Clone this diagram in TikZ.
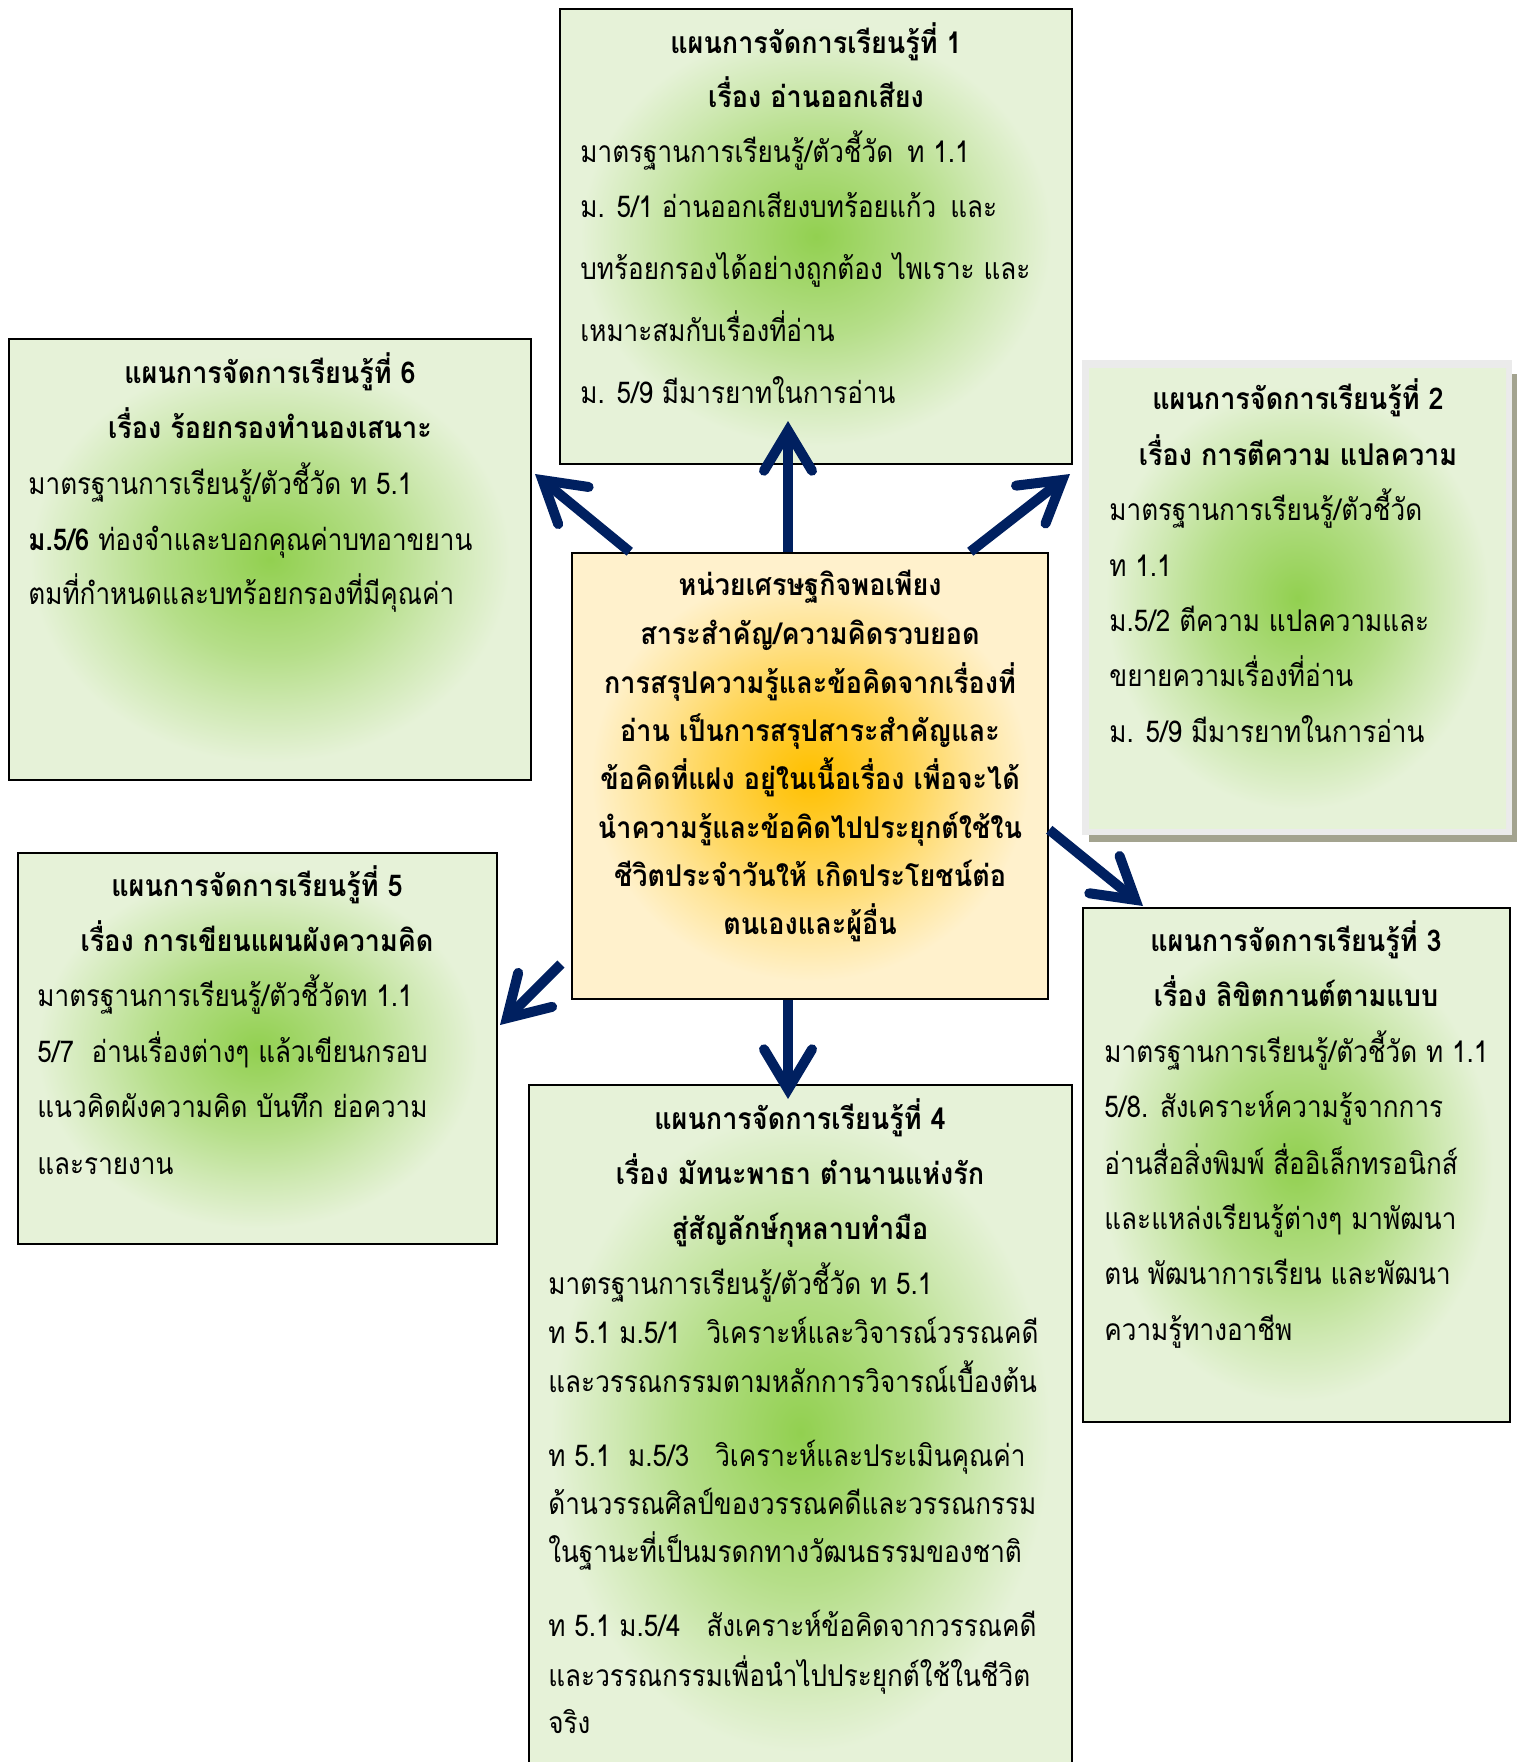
\documentclass[tikz,border=0pt]{standalone}
\usepackage{fontspec}
\setmainfont[Script=Thai]{Loma}
\newfontfamily\thbody[Script=Thai,FakeStretch=0.87]{Loma}
\newfontfamily\thbold[Script=Thai,FakeStretch=0.90]{Loma}
\usetikzlibrary{calc,arrows.meta}
\definecolor{gedge}{HTML}{E6F2D8}
\definecolor{gmid}{HTML}{92D050}
\definecolor{oedge}{HTML}{FFF1CC}
\definecolor{omid}{HTML}{FFC000}
\definecolor{navy}{HTML}{002060}
\definecolor{frameg}{HTML}{EBEBEB}
\definecolor{shadowg}{HTML}{A3A38F}
\pgfdeclareradialshading{greenglow}{\pgfpointorigin}{%
  color(0bp)=(gmid); color(4bp)=(gmid!85!gedge); color(11bp)=(gmid!58!gedge);
  color(17bp)=(gmid!28!gedge); color(23bp)=(gedge); color(50bp)=(gedge)}
\pgfdeclareradialshading{orangeglow}{\pgfpointorigin}{%
  color(0bp)=(omid); color(4bp)=(omid!85!oedge); color(11bp)=(omid!55!oedge);
  color(17bp)=(omid!25!oedge); color(23bp)=(oedge); color(50bp)=(oedge)}
\newcommand\bodyline[4]{\node[bodytext] (#1) at (#2,#3) {#4};}
\newcommand\titleline[4]{\node[titletext] (#1) at (#2,#3) {#4};}
\tikzset{
  planbox/.style={draw=black, line width=1.25pt, inner sep=0pt, rectangle},
  greenfill/.style={shading=greenglow},
  orangefill/.style={shading=orangeglow},
  bodytext/.style={font=\thbody\fontsize{15}{18}\selectfont, anchor=mid west, inner sep=0pt},
  titletext/.style={font=\thbold\bfseries\fontsize{15}{18}\selectfont, anchor=mid, inner sep=0pt},
  ctrtext/.style={font=\thbold\bfseries\fontsize{15}{18}\selectfont, anchor=mid, inner sep=0pt},
  arr/.style={draw=navy, line width=5pt, line cap=butt,
    -{Straight Barb[length=20pt, width=24pt, line cap=round, line join=miter]}},
}
\begin{document}
\begin{tikzpicture}[x=0.5pt,y=-0.5pt]
\useasboundingbox (0,0) rectangle (1518,1762);
\clip (0,0) rectangle (1518,1762);
\fill[white] (0,0) rectangle (1518,1762);

% boxes
\node[planbox, greenfill, minimum width=256pt, minimum height=227.5pt] (b1) at (816,236.5) {};
\node[planbox, greenfill, minimum width=261pt, minimum height=220.5pt] (b6) at (270,559.5) {};
\fill[shadowg] (1089,374) rectangle (1517,842);
\fill[frameg] (1082,360) rectangle (1512,835);
\node[inner sep=0pt, rectangle, greenfill, minimum width=208.5pt, minimum height=230pt] (b2) at (1297.5,598) {};
\node[planbox, orangefill, minimum width=238pt, minimum height=223pt] (ctr) at (810,776) {};
\node[planbox, greenfill, minimum width=239.5pt, minimum height=195.5pt] (b5) at (257.5,1048.5) {};
\node[planbox, greenfill, minimum width=213.5pt, minimum height=257pt] (b3) at (1296.5,1165) {};
\node[planbox, greenfill, minimum width=271.5pt, minimum height=347.5pt] (b4) at (800.5,1432.5) {};

% box 1
\titleline{b1t1}{816}{48}{แผนการจัดการเรียนรู้ที่ 1}
\titleline{b1t2}{816}{102}{เรื่อง อ่านออกเสียง}
\bodyline{b1l1}{580}{157}{มาตรฐานการเรียนรู้/ตัวชี้วัด\hspace{7pt}ท 1.1}
\bodyline{b1l2}{580}{212}{ม. 5/1 อ่านออกเสียงบทร้อยแก้ว\hspace{7pt}และ}
\bodyline{b1l3}{580}{274}{บทร้อยกรองได้อย่างถูกต้อง\hspace{5pt}ไพเราะ และ}
\bodyline{b1l4}{580}{336}{เหมาะสมกับเรื่องที่อ่าน}
\bodyline{b1l5}{580}{398}{ม. 5/9 มีมารยาทในการอ่าน}

% box 6
\titleline{b6t1}{270}{378}{แผนการจัดการเรียนรู้ที่ 6}
\titleline{b6t2}{270}{433}{เรื่อง ร้อยกรองทำนองเสนาะ}
\bodyline{b6l1}{28}{489}{มาตรฐานการเรียนรู้/ตัวชี้วัด ท 5.1}
\bodyline{b6l2}{28}{545}{\textbf{ม.5/6} ท่องจำและบอกคุณค่าบทอาขยาน}
\bodyline{b6l3}{28}{599}{ตมที่กำหนดและบทร้อยกรองที่มีคุณค่า}

% box 2
\titleline{b2t1}{1298}{404}{แผนการจัดการเรียนรู้ที่ 2}
\titleline{b2t2}{1298}{460}{เรื่อง การตีความ แปลความ}
\bodyline{b2l1}{1109}{515}{มาตรฐานการเรียนรู้/ตัวชี้วัด}
\bodyline{b2l2}{1109}{571}{ท 1.1}
\bodyline{b2l3}{1109}{626}{ม.5/2 ตีความ แปลความและ}
\bodyline{b2l4}{1109}{681}{ขยายความเรื่องที่อ่าน}
\bodyline{b2l5}{1109}{737}{ม. 5/9 มีมารยาทในการอ่าน}

% centre
\node[ctrtext] (c1) at (810,590) {หน่วยเศรษฐกิจพอเพียง};
\node[ctrtext] (c2) at (810,639) {สาระสำคัญ/ความคิดรวบยอด};
\node[ctrtext] (c3) at (810,688) {การสรุปความรู้และข้อคิดจากเรื่องที่};
\node[ctrtext] (c4) at (810,736) {อ่าน เป็นการสรุปสาระสำคัญและ};
\node[ctrtext] (c5) at (810,784) {ข้อคิดที่แฝง อยู่ในเนื้อเรื่อง เพื่อจะได้};
\node[ctrtext] (c6) at (810,833) {นำความรู้และข้อคิดไปประยุกต์ใช้ใน};
\node[ctrtext] (c7) at (810,881) {ชีวิตประจำวันให้ เกิดประโยชน์ต่อ};
\node[ctrtext] (c8) at (810,929) {ตนเองและผู้อื่น};

% box 5
\titleline{b5t1}{257}{891}{แผนการจัดการเรียนรู้ที่ 5}
\titleline{b5t2}{257}{946}{เรื่อง การเขียนแผนผังความคิด}
\bodyline{b5l1}{37}{1001}{มาตรฐานการเรียนรู้/ตัวชี้วัดท 1.1}
\bodyline{b5l2}{37}{1057}{5/7\ \ อ่านเรื่องต่างๆ แล้วเขียนกรอบ}
\bodyline{b5l3}{37}{1112}{แนวคิดผังความคิด บันทึก ย่อความ}
\bodyline{b5l4}{37}{1169}{และรายงาน}

% box 3
\titleline{b3t1}{1296}{946}{แผนการจัดการเรียนรู้ที่ 3}
\titleline{b3t2}{1296}{1001}{เรื่อง ลิขิตกานต์ตามแบบ}
\bodyline{b3l1}{1104}{1057}{มาตรฐานการเรียนรู้/ตัวชี้วัด ท 1.1}
\bodyline{b3l2}{1104}{1112}{5/8. สังเคราะห์ความรู้จากการ}
\bodyline{b3l3}{1104}{1169}{อ่านสื่อสิ่งพิมพ์ สื่ออิเล็กทรอนิกส์}
\bodyline{b3l4}{1104}{1224}{และแหล่งเรียนรู้ต่างๆ มาพัฒนา}
\bodyline{b3l5}{1104}{1279}{ตน พัฒนาการเรียน และพัฒนา}
\bodyline{b3l6}{1104}{1335}{ความรู้ทางอาชีพ}

% box 4
\titleline{b4t1}{800}{1124}{แผนการจัดการเรียนรู้ที่ 4}
\titleline{b4t2}{800}{1179}{เรื่อง มัทนะพาธา ตำนานแห่งรัก}
\titleline{b4t3}{800}{1234}{สู่สัญลักษ์กุหลาบทำมือ}
\bodyline{b4l1}{548}{1289}{มาตรฐานการเรียนรู้/ตัวชี้วัด ท 5.1}
\bodyline{b4l2}{548}{1338}{ท 5.1 ม.5/1\hspace{13pt}วิเคราะห์และวิจารณ์วรรณคดี}
\bodyline{b4l3}{548}{1387}{และวรรณกรรมตามหลักการวิจารณ์เบื้องต้น}
\bodyline{b4l4}{548}{1461}{ท 5.1\ \ ม.5/3\hspace{13pt}วิเคราะห์และประเมินคุณค่า}
\bodyline{b4l5}{548}{1509}{ด้านวรรณศิลป์ของวรรณคดีและวรรณกรรม}
\bodyline{b4l6}{548}{1557}{ในฐานะที่เป็นมรดกทางวัฒนธรรมของชาติ}
\bodyline{b4l7}{548}{1631}{ท 5.1 ม.5/4\hspace{13pt}สังเคราะห์ข้อคิดจากวรรณคดี}
\bodyline{b4l8}{548}{1681}{และวรรณกรรมเพื่อนำไปประยุกต์ใช้ในชีวิต}
\bodyline{b4l9}{548}{1728}{จริง}

% arrows
\coordinate (t1) at (788,421);
\coordinate (t6) at (535,474);
\coordinate (t2) at (1070,474);
\coordinate (t3) at (1143,906);
\coordinate (t4) at (788,1099);
\coordinate (t5) at (500,1025);
\coordinate (s5) at (561,964);
\draw[arr] ($(ctr.north)+(-22,0)$) -- (t1);
\draw[arr] ($(ctr.north west)+(59,0)$) -- (t6);
\draw[arr] ($(ctr.north east)+(-79,0)$) -- (t2);
\draw[arr] ($(ctr.north east)+(0,278)$) -- (t3);
\draw[arr] ($(ctr.south)+(-22,0)$) -- (t4);
\draw[arr] (s5) -- (t5);
\end{tikzpicture}
\end{document}
